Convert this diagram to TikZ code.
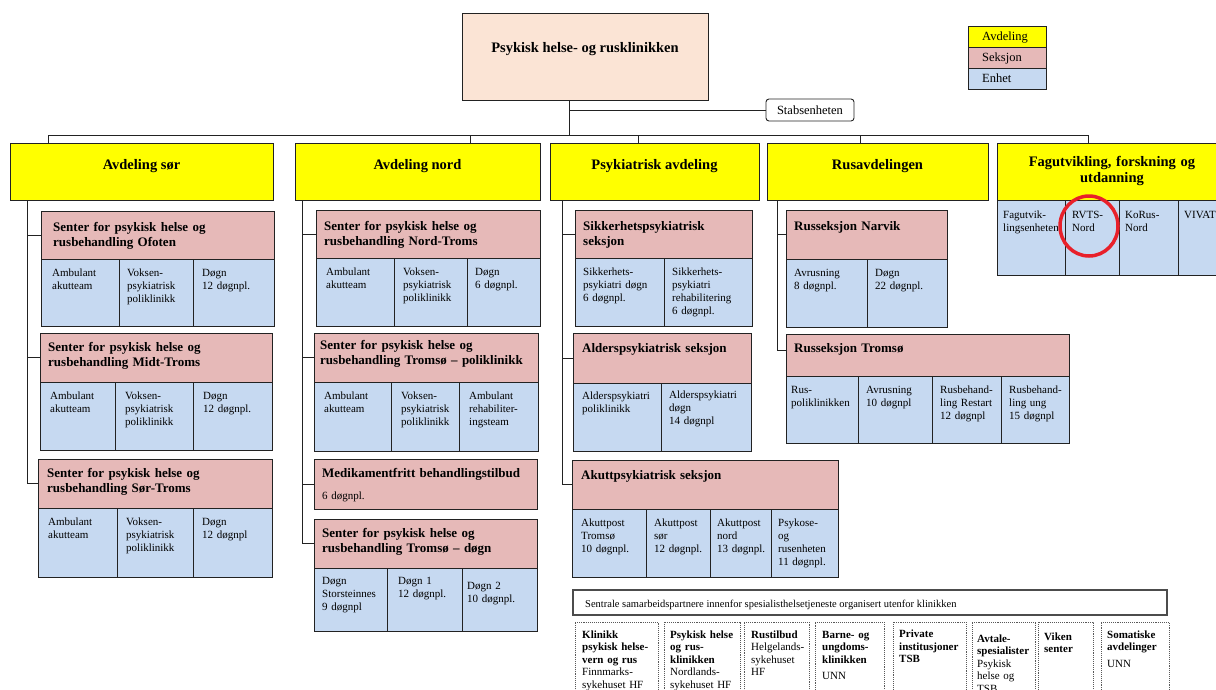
\documentclass[tikz,border=0pt]{standalone}
\usepackage{fontspec}
\setmainfont{Liberation Serif}
\definecolor{avY}{HTML}{FFFF00}
\definecolor{sekP}{HTML}{E6B9B8}
\definecolor{enhB}{HTML}{C6D9F1}
\definecolor{topP}{HTML}{FBE4D5}
\definecolor{lineC}{HTML}{222222}
\definecolor{circR}{HTML}{E8202A}
\newcommand\cellbox[6]{\node[#2,anchor=north west,minimum width={(#5-#3)*1pt},minimum height={(#6-#4)*1pt}] (#1) at (#3,#4) {};}
\newcommand\celltext[6]{\node[#2,anchor=base west] (#1) at ([shift={(#4,#5)}]#3.north west) {#6};}
\begin{document}
\begin{tikzpicture}[x=1pt,y=-1pt,
  box/.style={draw=lineC,line width=0.9pt,inner sep=0pt,outer sep=0pt},
  av/.style={box,fill=avY},
  sek/.style={box,fill=sekP},
  enh/.style={box,fill=enhB},
  dotbox/.style={draw=gray!70!black,densely dotted,line width=0.9pt,inner sep=0pt,outer sep=0pt},
  conn/.style={draw=lineC,line width=0.8pt},
  txt/.style={inner sep=0pt,text width=260pt,align=left},
  hdr/.style={txt,font=\fontsize{13}{15}\selectfont\bfseries},
  unt/.style={txt,font=\fontsize{11}{13}\selectfont},
  bot/.style={txt,font=\fontsize{11}{12.5}\selectfont},
  lgt/.style={txt,font=\fontsize{12.5}{14}\selectfont},
  avt/.style={inner sep=0pt,font=\fontsize{14.5}{16.5}\selectfont\bfseries}]
\useasboundingbox (0,0) rectangle (1216,689);
\clip (0,0) rectangle (1216,689);

% top
\node[box,fill=topP,anchor=north west,minimum width=246pt,minimum height=87pt] (top) at (462,13) {};
\node[avt,anchor=base] (topT) at ([shift={(0,39.5)}]top.north) {Psykisk helse- og rusklinikken};
\node[box,rounded corners=3pt,anchor=north west,minimum width=88pt,minimum height=22pt,font=\fontsize{12.5}{14}\selectfont] (stab) at (766,99) {Stabsenheten};

% legend
\cellbox{lgA}{av}{968}{26}{1046}{47}
\cellbox{lgS}{sek}{968}{47}{1046}{68}
\cellbox{lgE}{enh}{968}{68}{1046}{89}
\celltext{lgAt}{lgt}{lgA}{14}{14}{Avdeling}
\celltext{lgSt}{lgt}{lgS}{14}{14}{Seksjon}
\celltext{lgEt}{lgt}{lgE}{14}{14}{Enhet}

% avdelinger
\cellbox{avsor}{av}{10}{143}{273}{200}
\node[avt,anchor=base] (avsorT) at ([shift={(0,26)}]avsor.north) {Avdeling sør};
\cellbox{avnord}{av}{295}{143}{540}{200}
\node[avt,anchor=base] (avnordT) at ([shift={(0,26)}]avnord.north) {Avdeling nord};
\cellbox{avpsyk}{av}{550}{143}{759}{200}
\node[avt,anchor=base] (avpsykT) at ([shift={(0,26)}]avpsyk.north) {Psykiatrisk avdeling};
\cellbox{avrus}{av}{767}{143}{988}{200}
\node[avt,anchor=base] (avrusT) at ([shift={(0,26)}]avrus.north) {Rusavdelingen};
\cellbox{avfag}{av}{997}{143}{1227}{200}
\node[avt,anchor=base,text width=230pt,align=center] (avfagT) at (1112,166) {Fagutvikling, forskning og\\utdanning};

% fag units
\cellbox{fa1}{enh}{997}{200}{1065}{275}
\cellbox{fa2}{enh}{1065}{200}{1119}{275}
\cellbox{fa3}{enh}{1119}{200}{1178}{275}
\cellbox{fa4}{enh}{1178}{200}{1240}{275}
\celltext{fa1t}{unt}{fa1}{6}{18}{Fagutvik-\\lingsenheten}
\celltext{fa2t}{unt}{fa2}{7}{18}{RVTS-\\Nord}
\celltext{fa3t}{unt}{fa3}{6}{18}{KoRus-\\Nord}
\celltext{fa4t}{unt}{fa4}{6}{18}{VIVAT}
\draw[circR,line width=3.5pt] (1089,226) ellipse [x radius=29pt,y radius=30pt];

% --- Avdeling sør
\cellbox{ofH}{sek}{41}{211}{274}{259}
\celltext{ofHt}{hdr}{ofH}{12}{20}{Senter for psykisk helse og\\rusbehandling Ofoten}
\cellbox{of1}{enh}{41}{259}{119}{326}
\cellbox{of2}{enh}{119}{259}{193}{326}
\cellbox{of3}{enh}{193}{259}{274}{326}
\celltext{of1t}{unt}{of1}{11}{17}{Ambulant\\akutteam}
\celltext{of2t}{unt}{of2}{8}{17}{Voksen-\\psykiatrisk\\poliklinikk}
\celltext{of3t}{unt}{of3}{9}{17}{Døgn\\12 døgnpl.}

\cellbox{miH}{sek}{40}{333}{272}{382}
\celltext{miHt}{hdr}{miH}{8}{18}{Senter for psykisk helse og\\rusbehandling Midt-Troms}
\cellbox{mi1}{enh}{40}{382}{115}{450}
\cellbox{mi2}{enh}{115}{382}{193}{450}
\cellbox{mi3}{enh}{193}{382}{272}{450}
\celltext{mi1t}{unt}{mi1}{10}{17}{Ambulant\\akutteam}
\celltext{mi2t}{unt}{mi2}{10}{17}{Voksen-\\psykiatrisk\\poliklinikk}
\celltext{mi3t}{unt}{mi3}{10}{17}{Døgn\\12 døgnpl.}

\cellbox{stH}{sek}{38}{459}{272}{508}
\celltext{stHt}{hdr}{stH}{9}{18}{Senter for psykisk helse og\\rusbehandling Sør-Troms}
\cellbox{st1}{enh}{38}{508}{117}{577}
\cellbox{st2}{enh}{117}{508}{193}{577}
\cellbox{st3}{enh}{193}{508}{272}{577}
\celltext{st1t}{unt}{st1}{10}{17}{Ambulant\\akutteam}
\celltext{st2t}{unt}{st2}{9}{17}{Voksen-\\psykiatrisk\\poliklinikk}
\celltext{st3t}{unt}{st3}{9}{17}{Døgn\\12 døgnpl}

% --- Avdeling nord
\cellbox{ntH}{sek}{316}{210}{540}{258}
\celltext{ntHt}{hdr}{ntH}{8}{20}{Senter for psykisk helse og\\rusbehandling Nord-Troms}
\cellbox{nt1}{enh}{316}{258}{394}{326}
\cellbox{nt2}{enh}{394}{258}{467}{326}
\cellbox{nt3}{enh}{467}{258}{540}{326}
\celltext{nt1t}{unt}{nt1}{10}{17}{Ambulant\\akutteam}
\celltext{nt2t}{unt}{nt2}{9}{17}{Voksen-\\psykiatrisk\\poliklinikk}
\celltext{nt3t}{unt}{nt3}{8}{17}{Døgn\\6 døgnpl.}

\cellbox{tpH}{sek}{314}{333}{538}{382}
\celltext{tpHt}{hdr}{tpH}{6}{16}{Senter for psykisk helse og\\rusbehandling Tromsø – poliklinikk}
\cellbox{tp1}{enh}{314}{382}{391}{451}
\cellbox{tp2}{enh}{391}{382}{459}{451}
\cellbox{tp3}{enh}{459}{382}{538}{451}
\celltext{tp1t}{unt}{tp1}{10}{17}{Ambulant\\akutteam}
\celltext{tp2t}{unt}{tp2}{10}{17}{Voksen-\\psykiatrisk\\poliklinikk}
\celltext{tp3t}{unt}{tp3}{10}{17}{Ambulant\\rehabiliter-\\ingsteam}

\cellbox{meH}{sek}{314}{459}{537}{509}
\celltext{meHt}{hdr}{meH}{8}{18}{Medikamentfritt behandlingstilbud}
\celltext{meHs}{unt}{meH}{8}{40}{6 døgnpl.}

\cellbox{tdH}{sek}{314}{519}{537}{568}
\celltext{tdHt}{hdr}{tdH}{8}{18}{Senter for psykisk helse og\\rusbehandling Tromsø – døgn}
\cellbox{td1}{enh}{314}{568}{387}{631}
\cellbox{td2}{enh}{387}{568}{462}{631}
\cellbox{td3}{enh}{462}{568}{537}{631}
\celltext{td1t}{unt}{td1}{8}{16}{Døgn\\Storsteinnes\\9 døgnpl}
\celltext{td2t}{unt}{td2}{11}{16}{Døgn 1\\12 døgnpl.}
\celltext{td3t}{unt}{td3}{5}{21}{Døgn 2\\10 døgnpl.}

% --- Psykiatrisk avdeling
\cellbox{skH}{sek}{575}{210}{752}{258}
\celltext{skHt}{hdr}{skH}{8}{20}{Sikkerhetspsykiatrisk\\seksjon}
\cellbox{sk1}{enh}{575}{258}{664}{326}
\cellbox{sk2}{enh}{664}{258}{752}{326}
\celltext{sk1t}{unt}{sk1}{8}{17}{Sikkerhets-\\psykiatri døgn\\6 døgnpl.}
\celltext{sk2t}{unt}{sk2}{8}{17}{Sikkerhets-\\psykiatri\\rehabilitering\\6 døgnpl.}

\cellbox{alH}{sek}{573}{333}{751}{383}
\celltext{alHt}{hdr}{alH}{9}{19}{Alderspsykiatrisk seksjon}
\cellbox{al1}{enh}{573}{383}{661}{451}
\cellbox{al2}{enh}{661}{383}{751}{451}
\celltext{al1t}{unt}{al1}{9}{16}{Alderspsykiatri\\poliklinikk}
\celltext{al2t}{unt}{al2}{8}{15}{Alderspsykiatri\\døgn\\14 døgnpl}

\cellbox{akH}{sek}{572}{460}{838}{509}
\celltext{akHt}{hdr}{akH}{9}{19}{Akuttpsykiatrisk seksjon}
\cellbox{ak1}{enh}{572}{509}{646}{577}
\cellbox{ak2}{enh}{646}{509}{710}{577}
\cellbox{ak3}{enh}{710}{509}{771}{577}
\cellbox{ak4}{enh}{771}{509}{838}{577}
\celltext{ak1t}{unt}{ak1}{9}{17}{Akuttpost\\Tromsø\\10 døgnpl.}
\celltext{ak2t}{unt}{ak2}{8}{17}{Akuttpost\\sør\\12 døgnpl.}
\celltext{ak3t}{unt}{ak3}{7}{17}{Akuttpost\\nord\\13 døgnpl.}
\celltext{ak4t}{unt}{ak4}{7}{17}{Psykose-\\og\\rusenheten\\11 døgnpl.}

% --- Rusavdelingen
\cellbox{rnH}{sek}{786}{210}{947}{259}
\celltext{rnHt}{hdr}{rnH}{8}{20}{Russeksjon Narvik}
\cellbox{rn1}{enh}{786}{259}{867}{327}
\cellbox{rn2}{enh}{867}{259}{947}{327}
\celltext{rn1t}{unt}{rn1}{8}{17}{Avrusning\\8 døgnpl.}
\celltext{rn2t}{unt}{rn2}{8}{17}{Døgn\\22 døgnpl.}

\cellbox{rtH}{sek}{786}{334}{1069}{376}
\celltext{rtHt}{hdr}{rtH}{8}{18}{Russeksjon Tromsø}
\cellbox{rt1}{enh}{786}{376}{858}{443}
\cellbox{rt2}{enh}{858}{376}{932}{443}
\cellbox{rt3}{enh}{932}{376}{1001}{443}
\cellbox{rt4}{enh}{1001}{376}{1069}{443}
\celltext{rt1t}{unt}{rt1}{5}{17}{Rus-\\poliklinikken}
\celltext{rt2t}{unt}{rt2}{8}{17}{Avrusning\\10 døgnpl}
\celltext{rt3t}{unt}{rt3}{8}{17}{Rusbehand-\\ling Restart\\12 døgnpl}
\celltext{rt4t}{unt}{rt4}{8}{17}{Rusbehand-\\ling ung\\15 døgnpl}

% --- connectors
\coordinate (bS) at (48,135);
\coordinate (bN) at (470,135);
\coordinate (bT) at (569,135);
\coordinate (bP) at (638,135);
\coordinate (bR) at (860,135);
\coordinate (bF) at (1088,135);
\draw[conn] (bS) -- (bF);
\draw[conn] (top.south -| bT) -- (bT);
\draw[conn] (stab.west) -- (stab.west -| bT);
\draw[conn] (bS) -- (bS |- avsor.north);
\draw[conn] (bN) -- (bN |- avnord.north);
\draw[conn] (bP) -- (bP |- avpsyk.north);
\draw[conn] (bR) -- (bR |- avrus.north);
\draw[conn] (bF) -- (bF |- avfag.north);

\coordinate (spS) at (27,200);
\draw[conn] (spS) |- (stH.west);
\draw[conn] (ofH.west -| spS) -- (ofH.west);
\draw[conn] (miH.west -| spS) -- (miH.west);

\coordinate (spN) at (302,200);
\draw[conn] (spN) |- (tdH.west);
\draw[conn] (ntH.west -| spN) -- (ntH.west);
\draw[conn] (tpH.west -| spN) -- (tpH.west);
\draw[conn] (meH.west -| spN) -- (meH.west);

\coordinate (spP) at (562,200);
\draw[conn] (spP) |- (akH.west);
\draw[conn] (skH.west -| spP) -- (skH.west);
\draw[conn] (alH.west -| spP) -- (alH.west);

\coordinate (spR) at (777,200);
\draw[conn] (spR) |- ([shift={(0,-5)}]rtH.west);
\draw[conn] (rnH.west -| spR) -- (rnH.west);

% --- bottom
\node[draw=gray!60!black,line width=1.4pt,inner sep=0pt,outer sep=0pt,anchor=north west,minimum width=594pt,minimum height=25pt] (sent) at (573,590) {};
\node[inner sep=0pt,anchor=base west,font=\fontsize{10.5}{12}\selectfont] (sentT) at ([shift={(12,17)}]sent.north west) {Sentrale samarbeidspartnere innenfor spesialisthelsetjeneste organisert utenfor klinikken};

\cellbox{p1}{dotbox}{575}{622}{658}{700}
\cellbox{p2}{dotbox}{664}{622}{740}{700}
\cellbox{p3}{dotbox}{744}{622}{809}{700}
\cellbox{p4}{dotbox}{815}{622}{884}{700}
\cellbox{p5}{dotbox}{893}{622}{966}{700}
\cellbox{p6}{dotbox}{972}{622}{1035}{700}
\cellbox{p7}{dotbox}{1038}{622}{1093}{700}
\cellbox{p8}{dotbox}{1101}{622}{1169}{700}
\celltext{p1t}{bot}{p1}{7}{16}{{\bfseries Klinikk\\psykisk helse-\\vern og rus}\\Finnmarks-\\sykehuset HF}
\celltext{p2t}{bot}{p2}{6}{16}{{\bfseries Psykisk helse\\og rus-\\klinikken}\\Nordlands-\\sykehuset HF}
\celltext{p3t}{bot}{p3}{7}{16}{{\bfseries Rustilbud}\\Helgelands-\\sykehuset\\HF}
\celltext{p4t}{bot}{p4}{7}{16}{{\bfseries Barne- og\\ungdoms-\\klinikken}\\[4pt]UNN}
\celltext{p5t}{bot}{p5}{6}{15.5}{{\bfseries Private\\institusjoner\\TSB}}
\celltext{p6t}{bot}{p6}{5}{20}{{\bfseries Avtale-\\spesialister}\\Psykisk\\helse og\\TSB}
\celltext{p7t}{bot}{p7}{6}{18}{{\bfseries Viken\\senter}}
\celltext{p8t}{bot}{p8}{6}{16}{{\bfseries Somatiske\\avdelinger}\\[4pt]UNN}
\end{tikzpicture}
\end{document}
